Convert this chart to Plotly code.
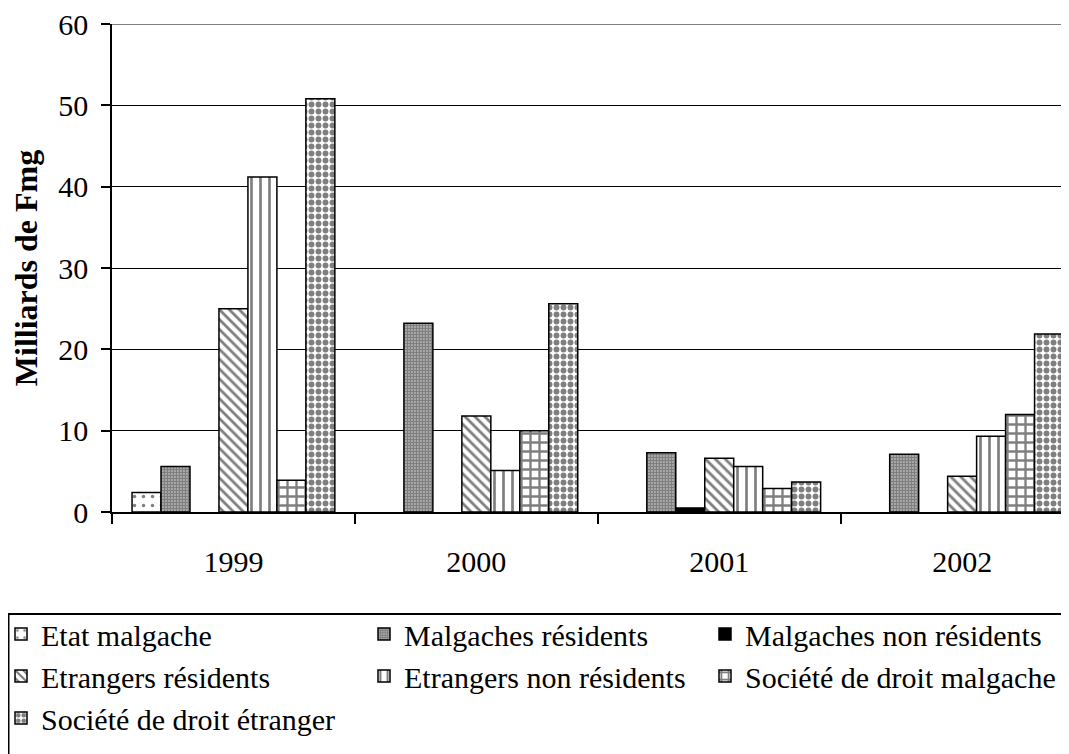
import plotly.graph_objects as go

years = ["1999", "2000", "2001", "2002"]
series_names = [
    "Etat malgache",
    "Malgaches résidents",
    "Malgaches non résidents",
    "Etrangers résidents",
    "Etrangers non résidents",
    "Société de droit malgache",
    "Société de droit étranger",
]
etat_malgache = [2.4, None, None, None]
malgaches_residents = [5.6, 23.2, 7.3, 7.1]
malgaches_non_residents = [None, None, 0.5, None]
etrangers_residents = [25.0, 11.8, 6.6, 4.4]
etrangers_non_residents = [41.2, 5.1, 5.6, 9.3]
societe_malgache = [3.9, 10.0, 2.9, 12.0]
societe_etranger = [50.8, 25.6, 3.7, 21.9]

values = [etat_malgache, malgaches_residents, malgaches_non_residents,
          etrangers_residents, etrangers_non_residents, societe_malgache,
          societe_etranger]

patterns = [
    dict(shape=".", size=9, solidity=0.12, fgcolor="black", bgcolor="white"),
    dict(shape=".", size=3, solidity=0.8, fgcolor="black", bgcolor="white"),
    None,
    dict(shape="\\", size=7, solidity=0.4, fgcolor="black", bgcolor="white"),
    dict(shape="|", size=9, solidity=0.3, fgcolor="black", bgcolor="white"),
    dict(shape="+", size=9, solidity=0.45, fgcolor="black", bgcolor="white"),
    dict(shape=".", size=7, solidity=0.55, fgcolor="black", bgcolor="white"),
]
legend_of = ["legend", "legend2", "legend3", "legend", "legend2", "legend3", "legend"]

FONT = "Times New Roman, Liberation Serif, serif"
FS_TICK = 30
FS_LEG = 30

fig = go.Figure()
for name, vals, pat, lg in zip(series_names, values, patterns, legend_of):
    marker = dict(line=dict(color="black", width=1.5))
    if pat is None:
        marker["color"] = "black"
    else:
        marker["color"] = "white"
        marker["pattern"] = pat
    fig.add_trace(go.Bar(x=years, y=vals, name=name, marker=marker, legend=lg))

# page body has an 8px margin; figure sized to fit the viewport
OFF = 8
W, H = 1069 - OFF, 754 - OFF
L, R, T, B = 104, 0, 16, H - 504
pw = W - L - R
ph = H - T - B

def sx(px):  # screen px -> paper x
    return (px - OFF - L) / pw

def sy(py):  # screen px -> paper y
    return (H - B - (py - OFF)) / ph

legend_common = dict(
    orientation="v", xanchor="left", yanchor="top",
    font=dict(family=FONT, size=FS_LEG, color="black"),
    bgcolor="rgba(0,0,0,0)", borderwidth=0, traceorder="normal",
)

fig.update_layout(
    width=W, height=H,
    margin=dict(l=L, r=R, t=T, b=B, pad=0, autoexpand=False),
    paper_bgcolor="white", plot_bgcolor="white",
    font=dict(family=FONT, size=FS_TICK, color="black"),
    barmode="group", bargap=0.165, bargroupgap=0,
    showlegend=True,
    legend=dict(x=sx(1), y=sy(608), **legend_common),
    legend2=dict(x=sx(364), y=sy(608), **legend_common),
    legend3=dict(x=sx(705), y=sy(608), **legend_common),
    xaxis=dict(
        type="category", range=[-0.5, 3.44], tickson="boundaries",
        ticks="outside", ticklen=10, tickwidth=1.5, tickcolor="black",
        showline=True, linecolor="black", linewidth=1.5,
        showgrid=False, tickfont=dict(family=FONT, size=FS_TICK),
        ticklabelstandoff=22, automargin=False,
    ),
    yaxis=dict(
        range=[0, 60], dtick=10, ticks="outside", ticklen=9, tickwidth=1.5,
        tickcolor="black", showline=True, linecolor="black", linewidth=1.5,
        showgrid=True, gridcolor="black", gridwidth=1.3, zeroline=False,
        tickfont=dict(family=FONT, size=FS_TICK), ticklabelstandoff=7,
        ticklabeloverflow="allow", automargin=False,
        title=dict(text="<b>Milliards de Fmg</b>", font=dict(family=FONT, size=32), standoff=27),
    ),
    shapes=[
        dict(type="line", xref="paper", yref="y", x0=0, x1=1, y0=60, y1=60,
             line=dict(color="#808080", width=2), layer="above"),
        dict(type="rect", xref="paper", yref="paper",
             x0=sx(8.5), x1=sx(1100), y0=sy(614), y1=sy(820),
             line=dict(color="black", width=2), fillcolor="rgba(0,0,0,0)"),
    ],
)

fig.write_html("out.html")
